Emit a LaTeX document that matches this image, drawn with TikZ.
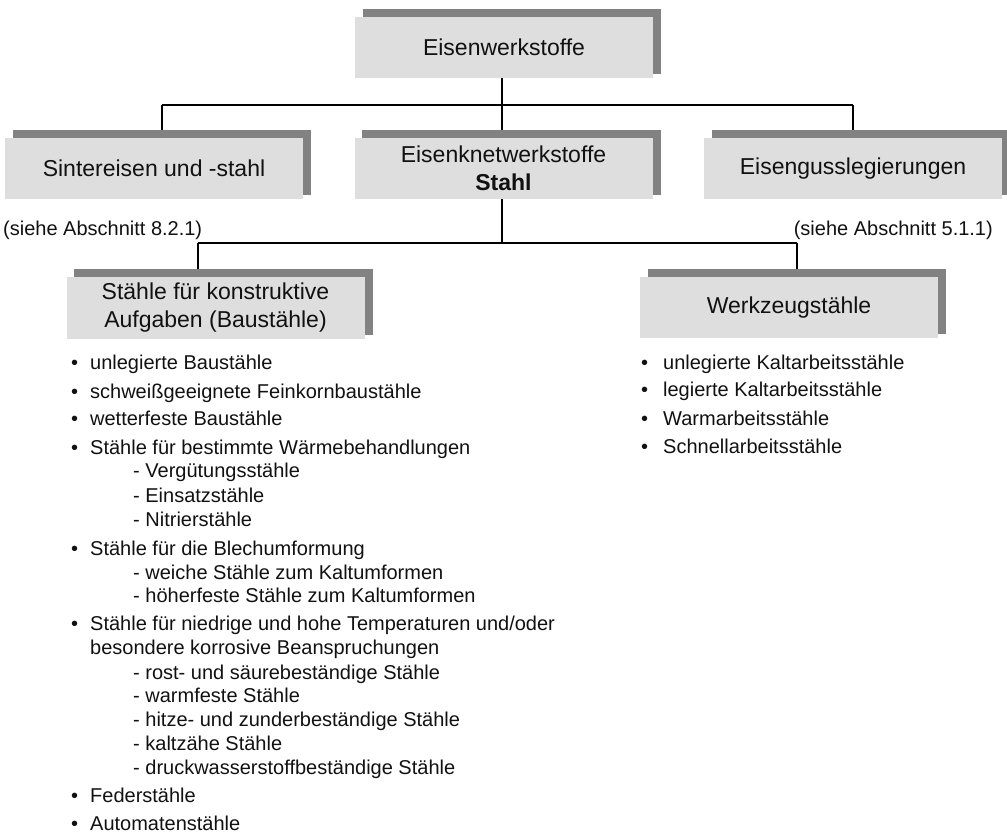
\documentclass[tikz,border=0pt]{standalone}
\usepackage{fontspec}
\setmainfont{Liberation Sans}
\usetikzlibrary{backgrounds}
\definecolor{boxfill}{HTML}{DEDEDE}
\definecolor{shadowgray}{HTML}{828282}
\definecolor{ink}{HTML}{111111}
\begin{document}
\begin{tikzpicture}[x=1pt,y=-1pt,
  box/.style={fill=boxfill, minimum width=298pt, minimum height=61pt, inner sep=0pt, align=center, font=\fontsize{23}{28}\selectfont, text=ink},
  conn/.style={line width=1.3pt, draw=black},
  boxshadow/.style={fill=shadowgray},
  item/.style={anchor=base west, inner sep=0pt, font=\fontsize{20}{24}\selectfont, text=ink},
  note/.style={inner sep=0pt, font=\fontsize{20}{24}\selectfont, text=ink}]
\useasboundingbox (0,0) rectangle (1007,833);

% boxes
\node[box] (top) at (504,47.5) {Eisenwerkstoffe};
\node[box] (sinter) at (154,168.5) {Sintereisen und -stahl};
\node[box] (knet) at (503.5,168.5) {Eisenknetwerkstoffe\\\textbf{Stahl}};
\node[box] (guss) at (853,168.5) {Eisengusslegierungen};
\node[box, minimum height=62pt] (bau) at (215.5,308) {Stähle für konstruktive\\Aufgaben (Baustähle)};
\node[box] (werk) at (789,307.5) {Werkzeugstähle};

% notes
\node[note, anchor=base west] (n1) at (3,235) {(siehe Abschnitt 8.2.1)};
\node[note, anchor=base east] (n2) at (993,235) {(siehe Abschnitt 5.1.1)};

% junctions
\coordinate (a0) at (502,105);
\coordinate (a1) at (162,105);
\coordinate (a2) at (853,105);
\coordinate (b0) at (502,243);
\coordinate (b1) at (198,243);
\coordinate (b2) at (797,243);

\begin{scope}[on background layer]
  \draw[conn] (a1) -- (a2);
  \draw[conn] (a0 |- top.south) -- (a0);
  \draw[conn] (a1) -- (a1 |- sinter.north);
  \draw[conn] (a0) -- (a0 |- knet.north);
  \draw[conn] (a2) -- (a2 |- guss.north);
  \draw[conn] (b0 |- knet.south) -- (b0);
  \draw[conn] (b1) -- (b2);
  \draw[conn] (b1) -- (b1 |- bau.north);
  \draw[conn] (b2) -- (b2 |- werk.north);
  \foreach \b in {top,sinter,knet,guss,bau,werk}{
    \fill[boxshadow] ([xshift=8pt,yshift=8pt]\b.north west) rectangle ([xshift=8pt,yshift=4pt]\b.south east);
  }
\end{scope}

% left list
\node[item] (l1) at (71,369) {\makebox[19pt][l]{•}unlegierte Baustähle};
\node[item] (l2) at (71,398) {\makebox[19pt][l]{•}schweißgeeignete Feinkornbaustähle};
\node[item] (l3) at (71,425) {\makebox[19pt][l]{•}wetterfeste Baustähle};
\node[item] (l4) at (71,454) {\makebox[19pt][l]{•}Stähle für bestimmte Wärmebehandlungen};
\node[item] (l5) at (133,477) {- Vergütungsstähle};
\node[item] (l6) at (133,502) {- Einsatzstähle};
\node[item] (l7) at (133,526) {- Nitrierstähle};
\node[item] (l8) at (71,555) {\makebox[19pt][l]{•}Stähle für die Blechumformung};
\node[item] (l9) at (133,579) {- weiche Stähle zum Kaltumformen};
\node[item] (l10) at (133,602) {- höherfeste Stähle zum Kaltumformen};
\node[item] (l11) at (71,630) {\makebox[19pt][l]{•}Stähle für niedrige und hohe Temperaturen und/oder};
\node[item] (l12) at (90,654) {besondere korrosive Beanspruchungen};
\node[item] (l13) at (133,679) {- rost- und säurebeständige Stähle};
\node[item] (l14) at (133,702) {- warmfeste Stähle};
\node[item] (l15) at (133,726) {- hitze- und zunderbeständige Stähle};
\node[item] (l16) at (133,750) {- kaltzähe Stähle};
\node[item] (l17) at (133,774) {- druckwasserstoffbeständige Stähle};
\node[item] (l18) at (71,802) {\makebox[19pt][l]{•}Federstähle};
\node[item] (l19) at (71,830) {\makebox[19pt][l]{•}Automatenstähle};

% right list
\node[item] (r1) at (641,369) {\makebox[22pt][l]{•}unlegierte Kaltarbeitsstähle};
\node[item] (r2) at (641,396) {\makebox[22pt][l]{•}legierte Kaltarbeitsstähle};
\node[item] (r3) at (641,425) {\makebox[22pt][l]{•}Warmarbeitsstähle};
\node[item] (r4) at (641,453) {\makebox[22pt][l]{•}Schnellarbeitsstähle};
\end{tikzpicture}
\end{document}
